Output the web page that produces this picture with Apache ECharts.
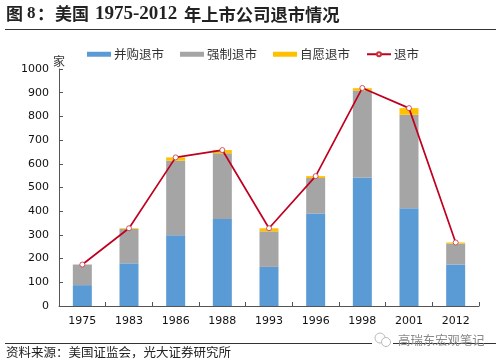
<!DOCTYPE html>
<html><head><meta charset="utf-8">
<style>html,body{margin:0;padding:0;background:#fff}#c{width:500px;height:362px}</style>
<script src="https://cdn.jsdelivr.net/npm/echarts@6/dist/echarts.min.js"></script>
</head><body><div id="c"></div>
<script>
const categories=['1975','1983','1986','1988','1993','1996','1998','2001','2012'];
const merger=[88,180,298,367,165,390,542,412,175];
const forced=[87,145,315,277,150,150,367,395,88];
const voluntary=[0,3,14,14,13,8,10,28,5];
const total=[175,328,627,658,328,548,920,835,268];
const yTicks={min:0,max:1000,interval:100};
const font='"DejaVu Sans","Noto Sans CJK SC",sans-serif';
const cjk='"Noto Sans CJK SC",sans-serif';
const chart=echarts.init(document.getElementById('c'),null,{renderer:'canvas'});
const bar=(name,data,color)=>({name,type:'bar',stack:'a',data,barWidth:19,itemStyle:{color},animation:false});
const txt=(x,y,t,size,color,weight,ff,extra)=>({type:'text',x,y,silent:true,style:Object.assign({text:t,fontSize:size,fill:color,fontWeight:weight||'normal',fontFamily:ff||cjk,textVerticalAlign:'middle'},extra||{})});
chart.setOption({
 animation:false,
 backgroundColor:'#fff',
 grid:{left:59,right:21,top:69,bottom:56},
 legend:{top:48,left:87,padding:0,itemWidth:24,itemHeight:5,itemGap:16,textStyle:{fontSize:12.5,color:'#333',fontFamily:cjk,padding:[0,0,0,-2]},
  data:[{name:'并购退市',icon:'rect'},{name:'强制退市',icon:'rect'},{name:'自愿退市',icon:'rect'},{name:'退市'}]},
 xAxis:{type:'category',data:categories,boundaryGap:true,
  axisLine:{lineStyle:{color:'#555',width:1}},
  axisTick:{show:true,inside:true,length:4,lineStyle:{color:'#555'},alignWithLabel:false},
  axisLabel:{fontSize:11,color:'#111',margin:10,fontFamily:font}},
 yAxis:{type:'value',min:yTicks.min,max:yTicks.max,interval:yTicks.interval,
  splitLine:{show:false},
  axisLine:{show:true,lineStyle:{color:'#555',width:1}},
  axisTick:{show:true,inside:true,length:4,lineStyle:{color:'#555'}},
  axisLabel:{fontSize:11,color:'#111',margin:10,fontFamily:font,formatter:v=>String(v)}},
 series:[
  bar('并购退市',merger,'#5B9BD5'),
  bar('强制退市',forced,'#A5A5A5'),
  bar('自愿退市',voluntary,'#FFC000'),
  {name:'退市',type:'line',data:total,symbol:'circle',symbolSize:5,z:5,
   lineStyle:{color:'#C00020',width:1.7},
   itemStyle:{color:'#fff',borderColor:'#C8303C',borderWidth:0.8}}
 ],
 graphic:[
  txt(6,14,'图',17,'#222','bold'),
  txt(27,14,'8',17,'#222','bold','"Liberation Serif",serif'),
  txt(37,14,'：',17,'#222','bold'),
  txt(55,14,'美国',17,'#222','bold'),
  txt(95,14,'1975-2012',19,'#222','bold','"Liberation Serif",serif'),
  txt(184,14,'年上市公司退市情况',17.3,'#222','bold'),
  {type:'line',silent:true,shape:{x1:5,y1:29.5,x2:496,y2:29.5},style:{stroke:'#333',lineWidth:1}},
  txt(53,61,'家',12,'#333'),
  {type:'line',silent:true,shape:{x1:5,y1:343.5,x2:496,y2:343.5},style:{stroke:'#333',lineWidth:1}},
  txt(6,352,'资料来源：美国证监会，光大证券研究所',12.5,'#222'),
  {type:'rect',silent:true,shape:{x:372,y:333,width:21,height:14},style:{fill:'#fff'}},
  txt(398,340,'高瑞东宏观笔记',12.4,'#888'),
  {type:'circle',silent:true,shape:{cx:380,cy:338,r:5},style:{fill:'#fff',stroke:'#bbb',lineWidth:1}},
  {type:'circle',silent:true,shape:{cx:386,cy:342,r:4.5},style:{fill:'#fff',stroke:'#bbb',lineWidth:1}}
 ]
});
</script></body></html>
